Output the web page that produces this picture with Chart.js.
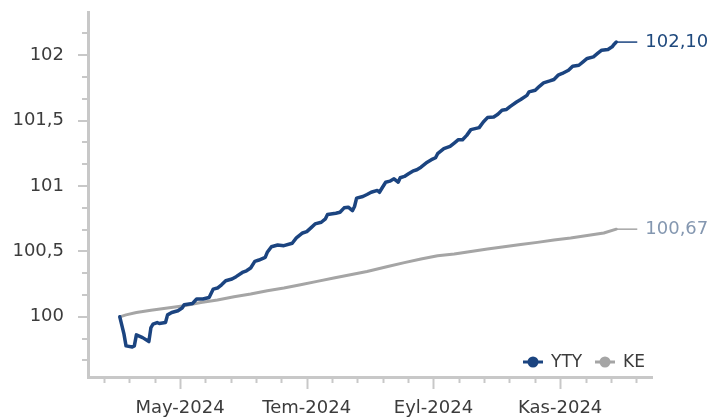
<!DOCTYPE html>
<html><head><meta charset="utf-8">
<script src="https://cdn.jsdelivr.net/npm/chart.js@4.4.1/dist/chart.umd.min.js"></script>
<style>html,body{margin:0;padding:0;background:#fff}#wrap{width:720px;height:419px;position:relative}</style>
</head><body><div id="wrap"><canvas id="c"></canvas></div>
<script>
// x values: days since 1 April 2024
const seriesNames = ['YTY', 'KE'];
const ytyDays = [1,3,4,7,8,9,12,15,16,17,19,20,23,24,26,29,31,32,36,38,41,44,46,48,50,52,55,57,60,62,64,66,68,71,72,74,77,80,84,86,89,91,93,95,98,100,101,105,107,109,111,113,114,115,118,120,122,125,126,128,129,131,133,135,136,138,140,142,144,146,149,151,153,154,157,160,162,164,166,168,170,174,176,178,181,183,185,187,189,192,194,197,198,201,203,205,208,210,212,214,217,219,222,224,226,229,231,233,236,238,239,240];
const ytyValues = [100.000,99.870,99.778,99.770,99.778,99.862,99.841,99.811,99.918,99.944,
  99.956,99.949,99.956,100.015,100.033,100.046,100.067,100.092,100.102,100.136,
  100.136,100.148,100.212,100.220,100.245,100.276,100.289,100.307,100.339,100.352,
  100.373,100.424,100.434,100.454,100.493,100.536,100.549,100.544,100.562,100.603,
  100.641,100.651,100.680,100.710,100.723,100.749,100.782,100.792,100.799,100.833,
  100.838,100.812,100.843,100.907,100.920,100.935,100.952,100.966,100.952,101.004,
  101.029,101.037,101.055,101.029,101.063,101.073,101.094,101.113,101.124,101.144,
  101.182,101.201,101.216,101.247,101.285,101.303,101.328,101.354,101.354,101.387,
  101.431,101.446,101.489,101.523,101.527,101.548,101.579,101.584,101.609,101.642,
  101.661,101.693,101.719,101.732,101.762,101.788,101.803,101.814,101.847,101.860,
  101.885,101.916,101.923,101.949,101.975,101.987,102.013,102.038,102.044,102.064,
  102.084,102.100];
const keDays = [1,4,9,16,24,32,40,48,56,64,72,80,88,96,104,112,120,130,138,146,154,162,170,178,186,194,202,210,218,226,234,240];
const keValues = [100.000,100.015,100.033,100.051,100.067,100.084,100.110,100.128,100.153,100.174,100.199,100.220,100.245,100.271,100.297,100.322,100.347,100.385,100.414,100.442,100.467,100.480,100.500,100.519,100.536,100.552,100.569,100.588,100.603,100.621,100.641,100.670];
const endLabels = ['102,10', '100,67'];
const xTickDays = [30, 91, 152, 213];
const xTickLabels = ['May-2024', 'Tem-2024', 'Eyl-2024', 'Kas-2024'];
const yTickValues = [100, 100.5, 101, 101.5, 102];
const yTickLabels = ['100', '100,5', '101', '101,5', '102'];

const lineColors = ['#1B4480', '#A5A5A5'];
const labelColors = ['#1F497D', '#8497B0'];
const axisColor = '#C8C8C8';
const textColor = '#3C3C3C';
const FONT = "'DejaVu Sans', Verdana, sans-serif";

Chart.defaults.font.family = FONT;

const toPts = (xs, ys) => xs.map((d, i) => ({x: d, y: ys[i]}));

const customDraw = {
  id: 'customDraw',
  afterDatasetsDraw(chart) {
    const ctx = chart.ctx;
    const xs = chart.scales.x, ys = chart.scales.y;
    const area = chart.chartArea;
    ctx.save();
    // end labels with leader lines
    chart.data.datasets.forEach((ds, i) => {
      const meta = chart.getDatasetMeta(i);
      const last = meta.data[meta.data.length - 1];
      ctx.strokeStyle = lineColors[i];
      ctx.lineWidth = 1.5;
      ctx.beginPath();
      ctx.moveTo(last.x, last.y);
      ctx.lineTo(last.x + 21, last.y);
      ctx.stroke();
      ctx.fillStyle = labelColors[i];
      ctx.font = '18px ' + FONT;
      ctx.textBaseline = 'middle';
      ctx.textAlign = 'left';
      ctx.fillText(endLabels[i], last.x + 29, last.y);
    });
    // tick marks (major and minor)
    ctx.strokeStyle = axisColor;
    ctx.lineWidth = 2;
    const xStep = 61 / 5;
    for (let k = -3; k <= 18; k++) {
      const v = xTickDays[0] + k * xStep;
      const px = Math.round(xs.getPixelForValue(v)) + 0.5;
      const len = (k % 5 === 0) ? 12 : 6;
      ctx.beginPath();
      ctx.moveTo(px, area.bottom);
      ctx.lineTo(px, area.bottom + len);
      ctx.stroke();
    }
    for (let k = -2; k <= 13; k++) {
      const v = yTickValues[0] + k / 6;
      const py = Math.round(ys.getPixelForValue(v));
      const len = (k % 3 === 0) ? 10 : 6;
      ctx.beginPath();
      ctx.moveTo(area.left - len, py);
      ctx.lineTo(area.left, py);
      ctx.stroke();
    }
    // legend inside plot, bottom right
    ctx.fillStyle = '#ffffff';
    ctx.fillRect(522, 347, 131, 29);
    const items = [{cx: 533, tx: 551}, {cx: 605, tx: 623}];
    const ly = 362;
    items.forEach((it, i) => {
      ctx.strokeStyle = lineColors[i];
      ctx.lineWidth = 3;
      ctx.beginPath();
      ctx.moveTo(it.cx - 10, ly);
      ctx.lineTo(it.cx + 10, ly);
      ctx.stroke();
      ctx.fillStyle = lineColors[i];
      ctx.beginPath();
      ctx.arc(it.cx, ly, 5.5, 0, Math.PI * 2);
      ctx.fill();
      ctx.fillStyle = textColor;
      ctx.font = '17px ' + FONT;
      ctx.textBaseline = 'middle';
      ctx.textAlign = 'left';
      ctx.fillText(seriesNames[i], it.tx, ly + 1);
    });
    ctx.restore();
  }
};

new Chart(document.getElementById('c'), {
  type: 'line',
  data: {
    datasets: [
      {label: seriesNames[0], data: toPts(ytyDays, ytyValues), borderColor: lineColors[0], borderWidth: 3.5, pointRadius: 0, tension: 0, fill: false, borderJoinStyle: 'round', borderCapStyle: 'round'},
      {label: seriesNames[1], data: toPts(keDays, keValues), borderColor: lineColors[1], borderWidth: 3, pointRadius: 0, tension: 0, fill: false, borderJoinStyle: 'round', borderCapStyle: 'round'}
    ]
  },
  options: {
    responsive: true,
    maintainAspectRatio: false,
    animation: false,
    events: [],
    layout: {padding: {top: 12, right: 68, left: 0, bottom: 0}},
    plugins: {legend: {display: false}, tooltip: {enabled: false}},
    scales: {
      x: {
        type: 'linear',
        min: -14.3,
        max: 257.2,
        afterBuildTicks: (s) => { s.ticks = xTickDays.map(v => ({value: v})); },
        afterFit: (s) => { s.height = 42; s.paddingLeft = 0; s.paddingRight = 0; },
        grid: {display: false, drawTicks: false},
        border: {display: true, color: axisColor, width: 3},
        ticks: {
          autoSkip: false, maxRotation: 0, minRotation: 0, padding: 21,
          color: textColor, font: {size: 18, family: FONT},
          callback: (v, i) => xTickLabels[i]
        }
      },
      y: {
        type: 'linear',
        min: 99.54,
        max: 102.33,
        afterBuildTicks: (s) => { s.ticks = yTickValues.map(v => ({value: v})); },
        afterFit: (s) => { s.width = 88; s.paddingTop = 0; s.paddingBottom = 0; },
        grid: {display: false, drawTicks: false},
        border: {display: true, color: axisColor, width: 3},
        ticks: {
          padding: 24, color: textColor, font: {size: 18, family: FONT},
          callback: (v, i) => yTickLabels[i]
        }
      }
    }
  },
  plugins: [customDraw]
});
</script></body></html>
